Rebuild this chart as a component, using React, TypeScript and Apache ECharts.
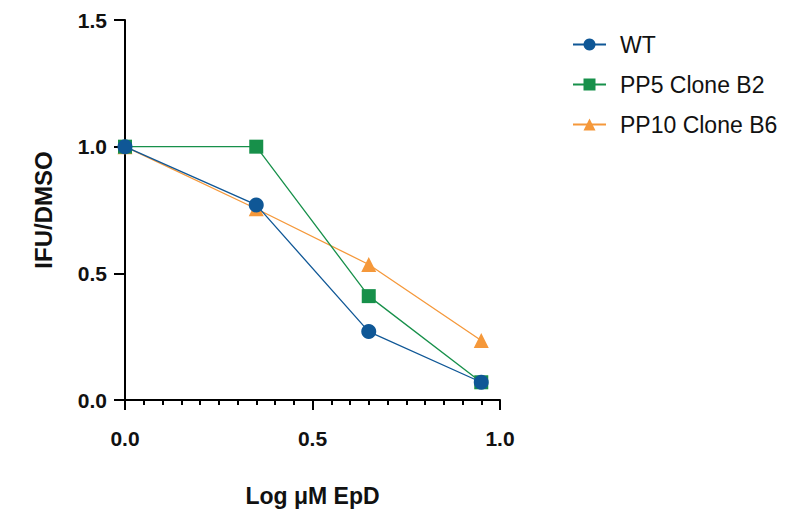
import React, { useEffect, useRef } from "react";
import * as echarts from "echarts";

const xValues = [0, 0.35, 0.65, 0.95];
const wt = [1.0, 0.77, 0.27, 0.07];
const pp5 = [1.0, 1.0, 0.41, 0.07];
const pp10 = [1.0, 0.755, 0.535, 0.235];
const seriesNames = ["WT", "PP5 Clone B2", "PP10 Clone B6"];

const BLUE = "#0f5796";
const GREEN = "#17904a";
const ORANGE = "#f5983a";
const FONT = "Liberation Sans, Arial, sans-serif";

export default function App() {
  const ref = useRef<HTMLDivElement>(null);
  useEffect(() => {
    const chart = echarts.init(ref.current!, undefined, { renderer: "svg" });
    const pts = (ys: number[]) => xValues.map((x, i) => [x, ys[i]]);
    chart.setOption({
      animation: false,
      backgroundColor: "#ffffff",
      grid: { left: 125, right: 287, top: 20, bottom: 111, containLabel: false },
      legend: {
        orient: "vertical",
        left: 567,
        top: 28,
        itemWidth: 33,
        itemHeight: 15,
        itemGap: 17,
        data: seriesNames,
        textStyle: { fontFamily: FONT, fontSize: 23, color: "#111", padding: [0, 0, 0, 9] },
      },
      xAxis: {
        type: "value",
        min: 0,
        max: 1,
        interval: 0.5,
        name: "Log μM EpD",
        nameLocation: "middle",
        nameGap: 84,
        nameTextStyle: { fontFamily: FONT, fontSize: 23, fontWeight: "bold", color: "#111" },
        axisLine: { show: true, lineStyle: { color: "#000", width: 2 } },
        axisTick: { show: true, length: 10, lineStyle: { color: "#000", width: 2 } },
        minorTick: { show: true, splitNumber: 10, length: 5, lineStyle: { color: "#000", width: 2 } },
        splitLine: { show: false },
        axisLabel: {
          margin: 28,
          fontFamily: FONT,
          fontSize: 21,
          fontWeight: "bold",
          color: "#111",
          formatter: (v: number) => v.toFixed(1),
        },
      },
      yAxis: {
        type: "value",
        min: 0,
        max: 1.5,
        interval: 0.5,
        name: "IFU/DMSO",
        nameLocation: "middle",
        nameGap: 70,
        nameTextStyle: { fontFamily: FONT, fontSize: 24, fontWeight: "bold", color: "#111" },
        axisLine: { show: true, onZero: false, lineStyle: { color: "#000", width: 2 } },
        axisTick: { show: true, length: 11, lineStyle: { color: "#000", width: 2 } },
        splitLine: { show: false },
        axisLabel: {
          margin: 18,
          fontFamily: FONT,
          fontSize: 21,
          fontWeight: "bold",
          color: "#111",
          formatter: (v: number) => v.toFixed(1),
        },
      },
      series: [
        {
          name: "PP10 Clone B6",
          type: "line",
          data: pts(pp10),
          symbol: "triangle",
          symbolSize: 15,
          clip: false,
          z: 2,
          itemStyle: { color: ORANGE },
          lineStyle: { color: ORANGE, width: 1.3 },
        },
        {
          name: "PP5 Clone B2",
          type: "line",
          data: pts(pp5),
          symbol: "rect",
          symbolSize: 14,
          clip: false,
          z: 3,
          itemStyle: { color: GREEN },
          lineStyle: { color: GREEN, width: 1.3 },
        },
        {
          name: "WT",
          type: "line",
          data: pts(wt),
          symbol: "circle",
          symbolSize: 15,
          clip: false,
          z: 4,
          itemStyle: { color: BLUE },
          lineStyle: { color: BLUE, width: 1.3 },
        },
      ],
    });
    return () => chart.dispose();
  }, []);
  return <div ref={ref} style={{ width: 787, height: 512, position: "absolute", left: 0, top: 0 }} />;
}
